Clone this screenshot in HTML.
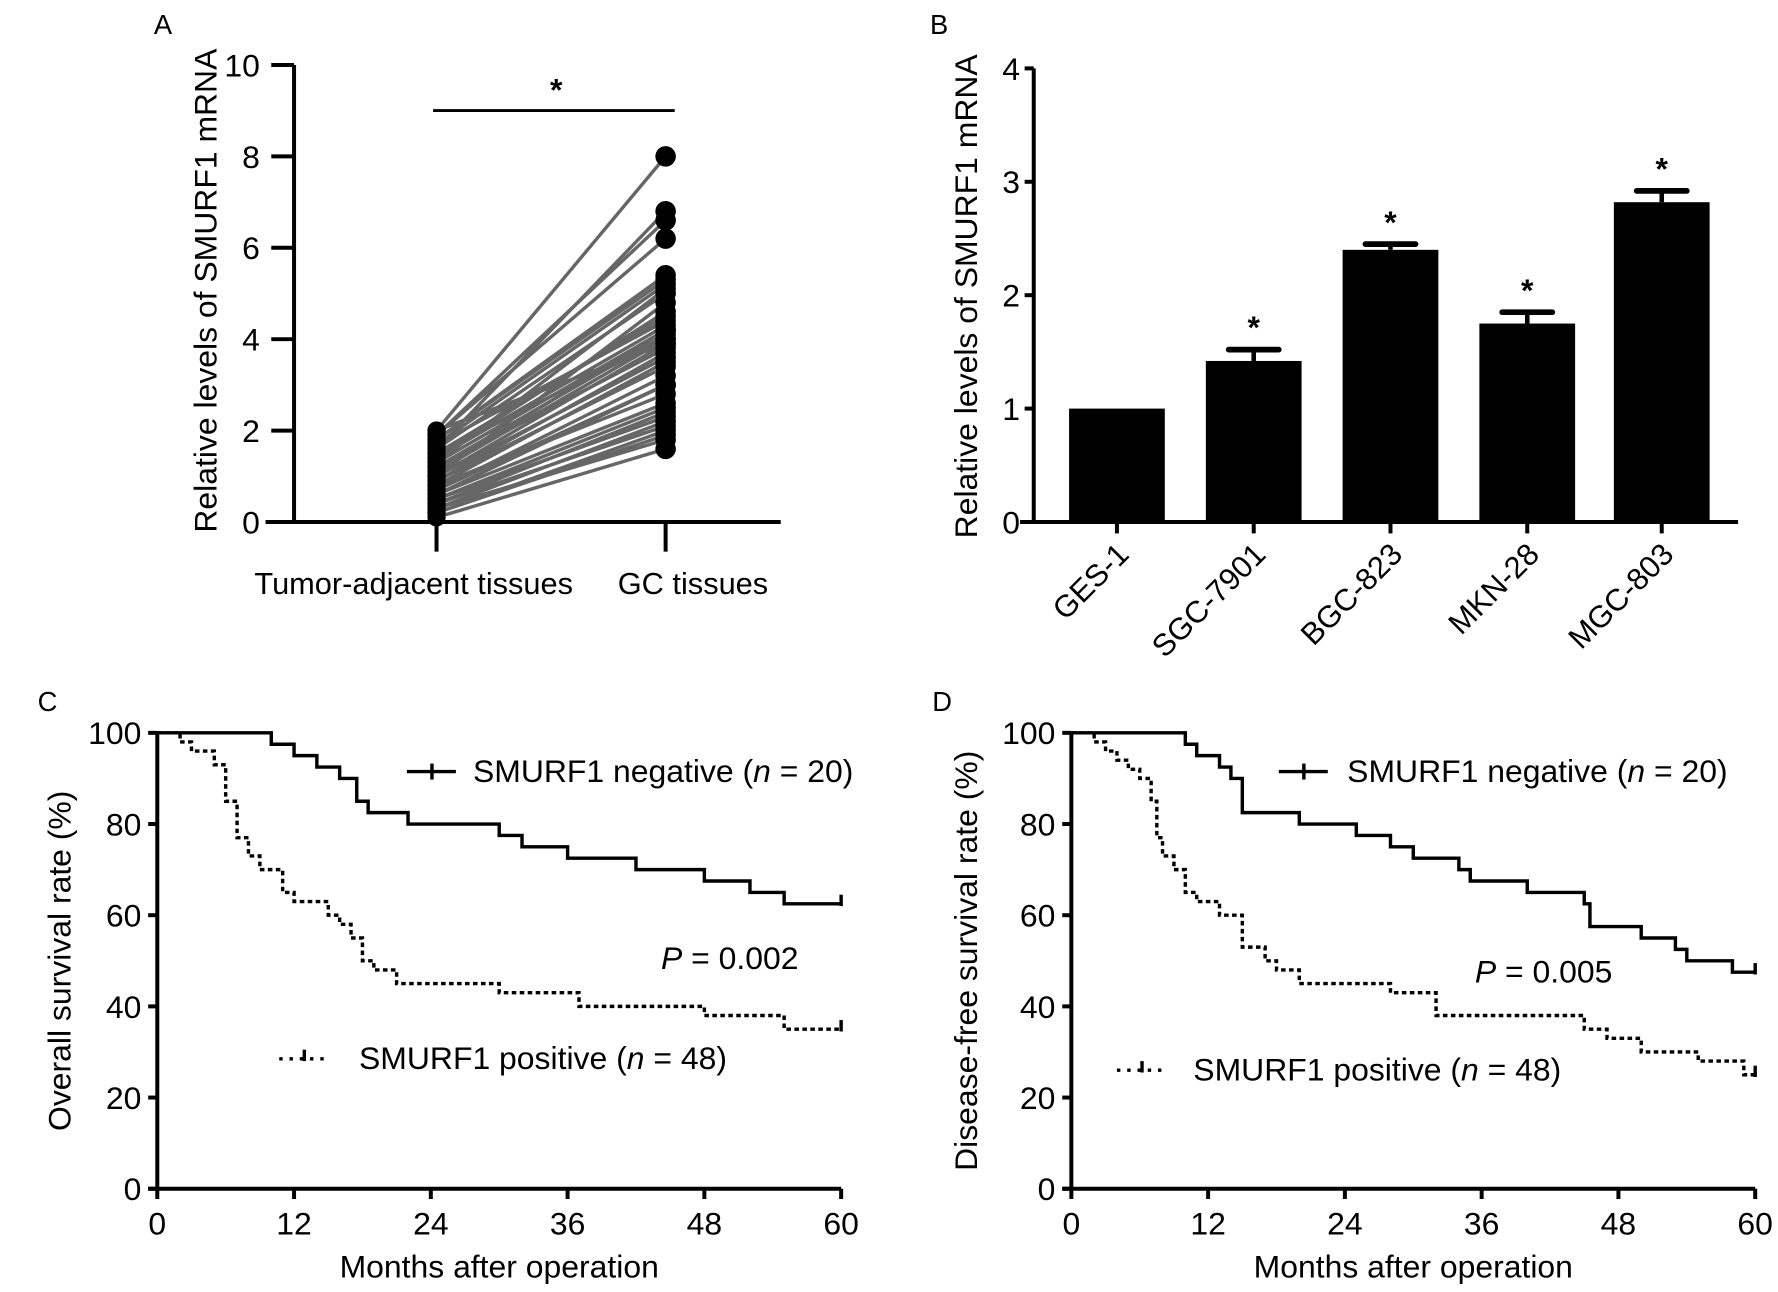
<!DOCTYPE html>
<html><head><meta charset="utf-8"><style>
html,body{margin:0;padding:0;background:#fff}
svg{display:block}
text{font-family:"Liberation Sans",Arial,sans-serif;fill:#000}
</style></head><body>
<svg id="fig" width="1778" height="1292" viewBox="0 0 1560 1133.6" xmlns="http://www.w3.org/2000/svg"></svg>
<script>
// Panel A data
const pairLeft=[0.1,0.2,0.3,0.4,0.5,0.6,0.7,0.8,0.9,1.0,1.1,1.2,1.3,1.4,1.5,1.6,1.7,1.8,1.9,2.0,0.3,0.5,0.8,1.0,1.2,1.5,1.7,1.9,0.4,0.6,0.9,1.1,1.3,1.6,1.8,2.0,0.2,0.7,1.4,1.0];
const pairRight=[1.6,2.0,2.2,2.4,2.5,3.0,3.2,3.5,3.7,3.9,4.0,4.1,4.2,4.3,4.5,5.0,5.2,5.4,6.2,8.0,1.8,2.3,2.8,3.6,3.8,4.0,4.4,6.6,2.1,2.6,3.4,4.2,5.1,6.8,5.3,3.9,1.9,3.0,4.6,4.8];
// Panel B data
const cellLines=["GES-1","SGC-7901","BGC-823","MKN-28","MGC-803"];
const cellMeans=[1.0,1.42,2.4,1.75,2.82];
const cellErrs=[0,0.1,0.05,0.1,0.1];
const cellSig=[false,true,true,true,true];
// Panel C data (months, survival %)
const cNegT=[0,10,12,14,16,17.5,18.5,22,30,32,36,42,48,52,55,60];
const cNegS=[100,97.5,95,92.5,90,85,82.5,80,77.5,75,72.5,70,67.5,65,62.5,62.5];
const cPosT=[0,2,3,5,6,7,8,9,11,12,15,16,17,18,19,21,30,37,48,55,60];
const cPosS=[100,98,96,93,85,77,73,70,65,63,60,58,55,50,48,45,43,40,38,35,35];
// Panel D data
const dNegT=[0,10,11,13,14,15,20,25,28,30,34,35,40,45,45.5,50,53,54,58,60];
const dNegS=[100,97.5,95,92.5,90,82.5,80,77.5,75,72.5,70,67.5,65,62.5,57.5,55,52.5,50,47.5,47.5];
const dPosT=[0,2,3,4,5,6,7,7.5,8,9,10,11,13,15,17,18,20,28,32,45,47,50,55,59,60];
const dPosS=[100,98,96,94,92,90,85,77,73,70,65,63,60,53,50,48,45,43,38,35,33,30,28,25,25];
const kmTicks=[0,12,24,36,48,60];
const pctTicks=[0,20,40,60,80,100];

const NS="http://www.w3.org/2000/svg";
const svg=document.getElementById('fig');
function mk(tag,attrs,parent,txt){const e=document.createElementNS(NS,tag);for(const k in attrs)e.setAttribute(k,attrs[k]);if(txt!==undefined)e.textContent=txt;(parent||svg).appendChild(e);return e;}
function grp(name){const g=mk('g',{});return g;}

// ---------- Panel A ----------
(function(){
const g=grp('panel-a');
const ax=258,y0=458,y10=57;
const yS=v=>y0+(y10-y0)*v/10;
const xL=383,xR=584;
mk('text',{x:135,y:30,'font-size':24},g,'A');
mk('text',{transform:`translate(190,255) rotate(-90)`,'text-anchor':'middle','font-size':28},g,'Relative levels of SMURF1 mRNA');
mk('line',{x1:ax,y1:y10,x2:ax,y2:y0,stroke:'#000','stroke-width':3.5},g);
mk('line',{x1:233,y1:y0,x2:685,y2:y0,stroke:'#000','stroke-width':3.5},g);
for(let v=0;v<=10;v+=2){mk('line',{x1:ax-20,y1:yS(v),x2:ax,y2:yS(v),stroke:'#000','stroke-width':3.5},g);
mk('text',{x:ax-30,y:yS(v)+10,'text-anchor':'end','font-size':28},g,String(v));}
[xL,xR].forEach(x=>mk('line',{x1:x,y1:y0,x2:x,y2:y0+26,stroke:'#000','stroke-width':3.5},g));
mk('text',{x:363,y:521,'text-anchor':'middle','font-size':27},g,'Tumor-adjacent tissues');
mk('text',{x:608,y:521,'text-anchor':'middle','font-size':27},g,'GC tissues');
for(let i=0;i<pairLeft.length;i++){const l=mk('line',{x1:xL,y1:yS(pairLeft[i]),x2:xR,y2:yS(pairRight[i]),stroke:'#666','stroke-width':3},g);
}
for(let i=0;i<pairLeft.length;i++){
const a=mk('circle',{cx:xL,cy:yS(pairLeft[i]),r:8,fill:'#000'},g);
const b=mk('circle',{cx:xR,cy:yS(pairRight[i]),r:9,fill:'#000'},g);}
mk('line',{x1:380,y1:97,x2:592,y2:97,stroke:'#000','stroke-width':2.5},g);
mk('text',{x:488,y:88,'text-anchor':'middle','font-size':28,'font-weight':'bold'},g,'*');
})();

// ---------- Panel B ----------
(function(){
const g=grp('panel-b');
const ax=907,y0=458,ytop=60;
const yS=v=>y0-(y0-ytop)*v/4;
const cx=[980,1100,1220,1340,1458];
const bw=84;
mk('text',{x:816,y:30,'font-size':24},g,'B');
mk('text',{transform:`translate(857,260) rotate(-90)`,'text-anchor':'middle','font-size':28},g,'Relative levels of SMURF1 mRNA');
mk('line',{x1:ax,y1:ytop,x2:ax,y2:y0,stroke:'#000','stroke-width':3.5},g);
mk('line',{x1:895,y1:y0,x2:1525,y2:y0,stroke:'#000','stroke-width':3.5},g);
for(let v=0;v<=4;v++){mk('line',{x1:ax-8,y1:yS(v),x2:ax,y2:yS(v),stroke:'#000','stroke-width':3.5},g);
mk('text',{x:ax-12,y:yS(v)+10,'text-anchor':'end','font-size':28},g,String(v));}
for(let i=0;i<cellLines.length;i++){
const x=cx[i];
const r=mk('rect',{x:x-bw/2,y:yS(cellMeans[i]),width:bw,height:y0-yS(cellMeans[i]),fill:'#000'},g);

if(cellErrs[i]>0){const top=yS(cellMeans[i]+cellErrs[i]);
mk('line',{x1:x,y1:top,x2:x,y2:yS(cellMeans[i]),stroke:'#000','stroke-width':4},g);
mk('line',{x1:x-22,y1:top,x2:x+22,y2:top,stroke:'#000','stroke-width':5,'stroke-linecap':'round'},g);}
if(cellSig[i]){mk('text',{x:x,y:yS(cellMeans[i]+cellErrs[i])-10,'text-anchor':'middle','font-size':28,'font-weight':'bold'},g,'*');}
mk('line',{x1:x,y1:y0,x2:x,y2:y0+10,stroke:'#000','stroke-width':3.5},g);
mk('text',{transform:`translate(${x+12},${y0+30}) rotate(-45)`,'text-anchor':'end','font-size':27},g,cellLines[i]);
}
})();

// ---------- KM panels ----------
function km(opts){
const g=grp(opts.name);
const ax=opts.ax,y0=1043,y100=643;
const xS=m=>ax+m*10;
const yS=p=>y0-(y0-y100)*p/100;
mk('text',{x:opts.lx,y:624,'font-size':24},g,opts.letter);
mk('text',{transform:`translate(${opts.tx},843) rotate(-90)`,'text-anchor':'middle','font-size':28},g,opts.ytitle);
mk('line',{x1:ax,y1:y100,x2:ax,y2:y0,stroke:'#000','stroke-width':3.5},g);
mk('line',{x1:ax-8,y1:y0,x2:xS(60),y2:y0,stroke:'#000','stroke-width':3.5},g);
pctTicks.forEach(p=>{mk('line',{x1:ax-8,y1:yS(p),x2:ax,y2:yS(p),stroke:'#000','stroke-width':3.5},g);
mk('text',{x:ax-14,y:yS(p)+10,'text-anchor':'end','font-size':28},g,String(p));});
kmTicks.forEach(m=>{mk('line',{x1:xS(m),y1:y0,x2:xS(m),y2:y0+9,stroke:'#000','stroke-width':3.5},g);
mk('text',{x:xS(m),y:y0+40,'text-anchor':'middle','font-size':28},g,String(m));});
mk('text',{x:xS(30),y:1121,'text-anchor':'middle','font-size':28},g,'Months after operation');
function step(T,S,dash,name){let d=`M${xS(T[0])},${yS(S[0])}`;
for(let i=1;i<T.length;i++){d+=` H${xS(T[i])} V${yS(S[i])}`;}
const p=mk('path',{d:d,fill:'none',stroke:'#000','stroke-width':3,'stroke-dasharray':dash},g);
const e=T.length-1;mk('line',{x1:xS(T[e]),y1:yS(S[e])-8,x2:xS(T[e]),y2:yS(S[e])+2,stroke:'#000','stroke-width':3},g);}
step(opts.negT,opts.negS,'none','curve-negative');
step(opts.posT,opts.posS,'4,3','curve-positive');
const le=grp('legend-negative');g.appendChild(le);
mk('line',{x1:opts.ln[0],y1:677,x2:opts.ln[0]+43,y2:677,stroke:'#000','stroke-width':3},le);
mk('line',{x1:opts.ln[0]+22,y1:670,x2:opts.ln[0]+22,y2:684,stroke:'#000','stroke-width':3},le);
const t1=mk('text',{x:opts.ln[1],y:686,'font-size':28},le);
t1.innerHTML='SMURF1 negative (<tspan font-style="italic">n</tspan> = 20)';
const lp=grp('legend-positive');g.appendChild(lp);
mk('line',{x1:opts.lp[0],y1:opts.lp[2],x2:opts.lp[0]+40,y2:opts.lp[2],stroke:'#000','stroke-width':3,'stroke-dasharray':'3,6'},lp);
mk('line',{x1:opts.lp[0]+22,y1:opts.lp[2]-8,x2:opts.lp[0]+22,y2:opts.lp[2]+2,stroke:'#000','stroke-width':3},lp);
const t2=mk('text',{x:opts.lp[1],y:opts.lp[2]+9,'font-size':28},lp);
t2.innerHTML='SMURF1 positive (<tspan font-style="italic">n</tspan> = 48)';
const pt=mk('text',{x:opts.p[0],y:opts.p[1],'font-size':28},g);
pt.innerHTML='<tspan font-style="italic">P</tspan> = '+opts.p[2];

}
km({name:'panel-c',letter:'C',lx:33,ax:138,tx:62,ytitle:'Overall survival rate (%)',negT:cNegT,negS:cNegS,posT:cPosT,posS:cPosS,ln:[357,415],lp:[245,315,929],p:[580,850,'0.002']});
km({name:'panel-d',letter:'D',lx:818,ax:940,tx:857,ytitle:'Disease-free survival rate (%)',negT:dNegT,negS:dNegS,posT:dPosT,posS:dPosS,ln:[1122,1182],lp:[980,1047,939],p:[1294,862,'0.005']});
</script>
</body></html>
